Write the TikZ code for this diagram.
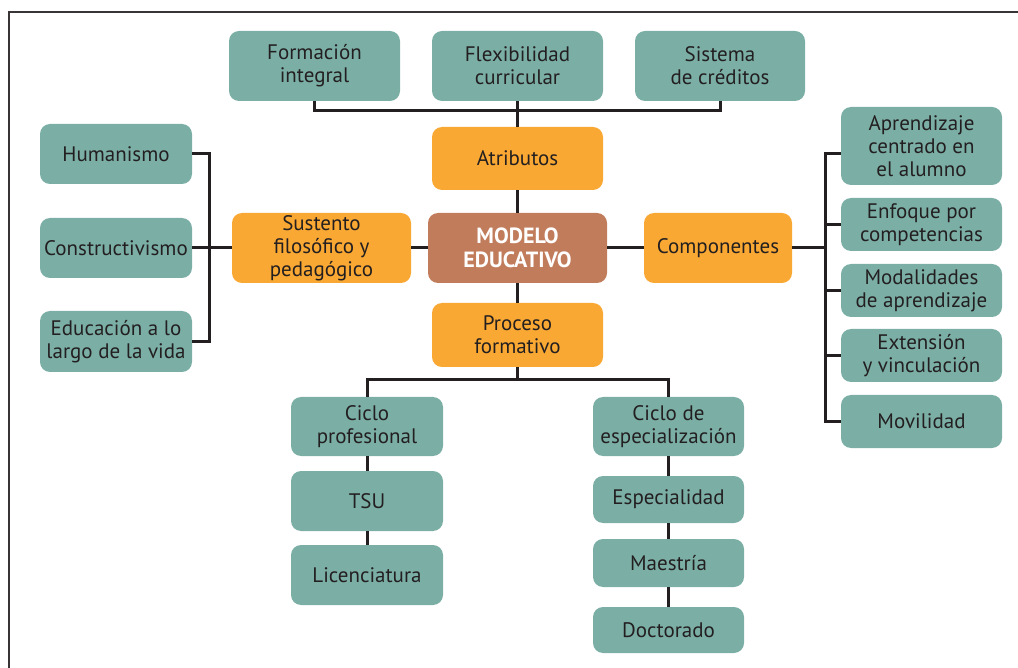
\documentclass[tikz,border=0pt]{standalone}
\usepackage{fontspec}
\setmainfont{PT Sans}
\definecolor{tealbox}{RGB}{123,175,166}
\definecolor{orangebox}{RGB}{249,168,51}
\definecolor{brownbox}{RGB}{193,124,92}
\definecolor{ink}{RGB}{35,31,32}
\tikzset{
  base/.style={rounded corners=10pt, inner sep=0pt, align=center, text=ink,
    font=\fontsize{21}{23}\selectfont},
  leaf/.style={base, fill=tealbox},
  hub/.style={base, fill=orangebox},
  core/.style={base, fill=brownbox, text=white,
    font=\fontsize{22}{23.5}\selectfont\bfseries},
  link/.style={draw=ink, line width=3pt},
  frameline/.style={draw=ink!90, line width=2pt}
}
\begin{document}
\begin{tikzpicture}[x=1pt,y=-1pt]
\useasboundingbox (0,0) rectangle (1018,668);
% open frame: top and left edges
\draw[frameline] (1018,12) -- (9,12) -- (9,668);

% centre and first level
\node[core, minimum width=179pt, minimum height=70pt] (mo) at (517.5,248) {MODELO\\EDUCATIVO};
\node[hub, minimum width=171pt, minimum height=63pt] (at) at (517.5,158.5) {Atributos};
\node[hub, minimum width=179pt, minimum height=70pt] (su) at (321.5,248) {Sustento\\filosófico y\\pedagógico};
\node[hub, minimum width=148pt, minimum height=70pt] (co) at (718,248) {Componentes};
\node[hub, minimum width=171pt, minimum height=64pt] (pr) at (517.5,335) {Proceso\\formativo};

% attributes
\node[leaf, minimum width=171pt, minimum height=70pt] (fi) at (314.5,66) {Formación\\integral};
\node[leaf, minimum width=171pt, minimum height=70pt] (fl) at (517.5,66) {Flexibilidad\\curricular};
\node[leaf, minimum width=170pt, minimum height=70pt] (sc) at (720,66) {Sistema\\de créditos};

% philosophical and pedagogical basis
\node[leaf, minimum width=152pt, minimum height=60pt] (hu) at (116,154) {Humanismo};
\node[leaf, minimum width=152pt, minimum height=60pt] (cs) at (116,248) {Constructivismo};
\node[leaf, minimum width=152pt, minimum height=61pt] (ed) at (116,341.5) {Educación a lo\\largo de la vida};

% components
\node[leaf, minimum width=161pt, minimum height=78pt] (ap) at (921.5,146) {Aprendizaje\\centrado en\\el alumno};
\node[leaf, minimum width=161pt, minimum height=53pt] (en) at (921.5,224.5) {Enfoque por\\competencias};
\node[leaf, minimum width=161pt, minimum height=53pt] (ma) at (921.5,290.5) {Modalidades\\de aprendizaje};
\node[leaf, minimum width=161pt, minimum height=53pt] (ex) at (921.5,355.5) {Extensión\\y vinculación};
\node[leaf, minimum width=161pt, minimum height=53pt] (mv) at (921.5,421.5) {Movilidad};

% training process
\node[leaf, minimum width=152pt, minimum height=59pt] (cp) at (367,426.5) {Ciclo\\profesional};
\node[leaf, minimum width=152pt, minimum height=60pt] (ts) at (367,501) {TSU};
\node[leaf, minimum width=152pt, minimum height=60pt] (li) at (367,575) {Licenciatura};
\node[leaf, minimum width=151pt, minimum height=59pt] (ce) at (668.5,426.5) {Ciclo de\\especialización};
\node[leaf, minimum width=151pt, minimum height=47pt] (es) at (668.5,499.5) {Especialidad};
\node[leaf, minimum width=151pt, minimum height=48pt] (me) at (668.5,563) {Maestría};
\node[leaf, minimum width=151pt, minimum height=46pt] (dr) at (668.5,630) {Doctorado};

% junction points of the brackets
\coordinate (tb) at (517.5,111);
\coordinate (lb) at (209,248);
\coordinate (rb) at (825,248);
\coordinate (bb) at (517.5,380);

% connectors
\draw[link] (fi.south) |- (tb) -| (sc.south);
\draw[link] (fl.south) -- (at.north);
\draw[link] (at.south) -- (mo.north);
\draw[link] (mo.south) -- (pr.north);
\draw[link] (su.east) -- (mo.west);
\draw[link] (mo.east) -- (co.west);

\draw[link] (su.west) -- (cs.east);
\draw[link] (hu.east) -| (lb) |- (ed.east);

\draw[link] (co.east) -- (rb);
\draw[link] ([yshift=-8pt]ap.west) -| (rb) |- (mv.west);
\draw[link] (en.west) -- (en.west -| rb);
\draw[link] (ma.west) -- (ma.west -| rb);
\draw[link] (ex.west) -- (ex.west -| rb);

\draw[link] (pr.south) -- (bb);
\draw[link] (cp.north) |- (bb) -| (ce.north);
\draw[link] (cp.south) -- (ts.north);
\draw[link] (ts.south) -- (li.north);
\draw[link] (ce.south) -- (es.north);
\draw[link] (es.south) -- (me.north);
\draw[link] (me.south) -- (dr.north);
\end{tikzpicture}
\end{document}
